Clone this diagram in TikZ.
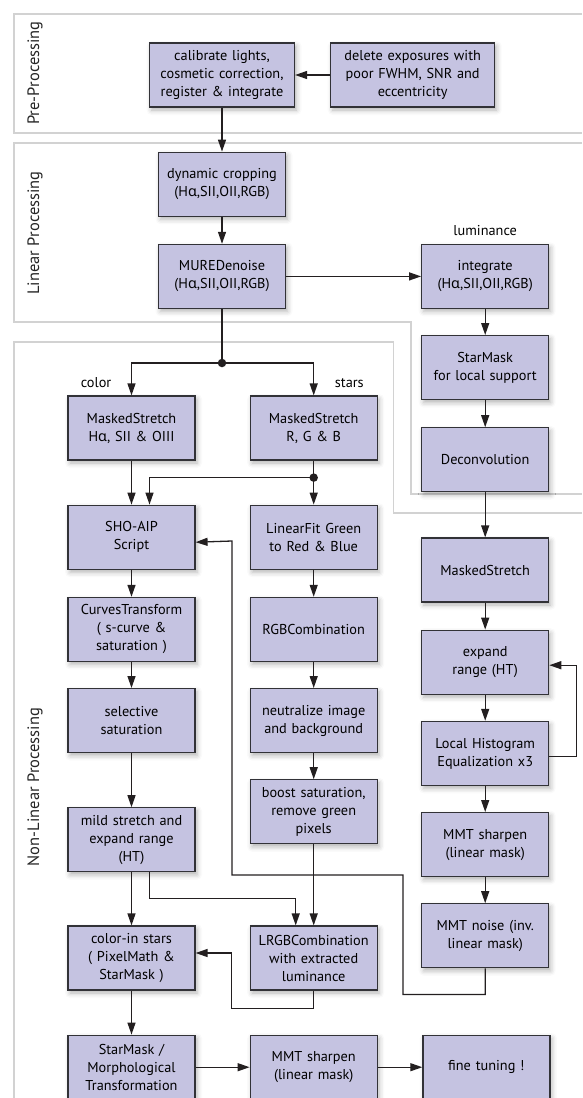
\documentclass[tikz,border=0pt]{standalone}
\usepackage{fontspec}
\setmainfont{PT Sans}
\newfontfamily\greekfont{Noto Sans}
\usepackage{xcolor}
\usepackage{tikz}
\usetikzlibrary{arrows.meta,positioning,shadows.blur}
\newcommand{\Ha}{H{\greekfont α}}
\definecolor{boxfill}{RGB}{197,195,225}
\definecolor{boxline}{RGB}{50,50,55}
\definecolor{linkcol}{RGB}{35,31,32}
\definecolor{framegray}{RGB}{210,210,210}

\begin{document}
\begin{tikzpicture}[
  x=1pt, y=-1pt,
  node distance=26pt,
  box/.style={draw=boxline, line width=1.2pt, fill=boxfill, align=center,
              minimum height=64pt, text width=115pt, inner xsep=6pt, inner ysep=2pt,
              font=\fontsize{14.3}{18}\selectfont,
              blur shadow={shadow xshift=2pt, shadow yshift=-3pt,
                           shadow blur radius=5pt, shadow opacity=30}},
  arrow/.style={-{Triangle[length=12pt,width=8pt]}, line width=1.3pt, draw=linkcol},
  link/.style={line width=1.3pt, draw=linkcol},
  frame/.style={draw=framegray, line width=1.5pt},
  phase/.style={rotate=90, font=\fontsize{16.5}{18}\selectfont, text=black!85},
  tag/.style={inner sep=0pt, font=\fontsize{14.3}{16}\selectfont},
  dot/.style={circle, fill=linkcol, inner sep=0pt, minimum size=8.5pt}
]
  \useasboundingbox (0,0) rectangle (582,1098);

  % section frames
  \draw[frame] (582,14) -| (14,133) -- (582,133);
  \draw[frame] (582,143) -| (14,322) -| (411,494) -- (582,494);
  \draw[frame] (582,513) -| (393.5,342) -| (14,1098);
  \node[phase] (prelabel) at (35,73) {Pre-Processing};
  \node[phase] (linlabel) at (35,233) {Linear Processing};
  \node[phase] (nonlabel) at (35,787) {Non-Linear Processing};

  % pre-processing
  \node[box, text width=133pt] (calib) at (222,75)
    {calibrate lights,\\cosmetic correction,\\register \& integrate};
  \node[box, text width=152pt, right=35pt of calib] (delete)
    {delete exposures with\\poor FWHM, SNR and\\eccentricity};

  % linear processing
  \node[box, below=44pt of calib] (crop) {dynamic cropping\\(\Ha,SII,OII,RGB)};
  \node[box, below=27pt of crop] (mure) {MUREDenoise\\(\Ha,SII,OII,RGB)};
  \node[box, right=135pt of mure] (integ) {integrate\\(\Ha,SII,OII,RGB)};
  \node[tag, above=8pt of integ] (lumtag) {luminance};

  % luminance branch
  \node[box, below=of integ] (starmask) {StarMask\\for local support};
  \node[box, below=27pt of starmask] (deconv) {Deconvolution};
  \node[box, below=45pt of deconv] (stretchL) {MaskedStretch};
  \node[box, below=27pt of stretchL] (expand) {expand\\range (HT)};
  \node[box, below=of expand] (lhe) {Local Histogram\\Equalization x3};
  \node[box, below=of lhe] (sharpL) {MMT sharpen\\(linear mask)};
  \node[box, below=of sharpL] (noiseL) {MMT noise (inv.\\linear mask)};

  % color branch
  \coordinate[below=54pt of mure] (split);
  \node[box] (msh) at (131.5,428) {MaskedStretch\\\Ha, SII \& OIII};
  \node[box, below=44pt of msh] (sho) {SHO-AIP\\Script};
  \node[box, below=27pt of sho] (curves) {CurvesTransform\\( s-curve \&\\saturation )};
  \node[box, below=of curves] (selsat) {selective\\saturation};
  \node[box, below=54pt of selsat] (mild) {mild stretch and\\expand range\\(HT)};
  \node[box, below=53pt of mild] (colorin) {color-in stars\\( PixelMath \&\\StarMask )};
  \node[box, below=44pt of colorin] (morph) {StarMask /\\Morphological\\Transformation};

  % stars branch
  \node[box, right=54pt of msh] (msrgb) {MaskedStretch\\R, G \& B};
  \node[box, right=54pt of sho] (linfit) {LinearFit Green\\to Red \& Blue};
  \node[box, right=54pt of curves] (rgbc) {RGBCombination};
  \node[box, right=54pt of selsat] (neutral) {neutralize image\\and background};
  \node[box, below=of neutral] (boost) {boost saturation,\\remove green\\pixels};
  \node[box, right=54pt of colorin] (lrgb) {LRGBCombination\\with extracted\\luminance};
  \node[box, right=54pt of morph] (sharpB) {MMT sharpen\\(linear mask)};
  \node[box, right=44.5pt of sharpB] (fine) {fine tuning !};
  \coordinate[below=17pt of msrgb] (merge);

  \node[tag, anchor=south east] (colortag) at ([xshift=-20pt, yshift=8pt]msh.north) {color};
  \node[tag, anchor=south west] (starstag) at ([xshift=21pt, yshift=8pt]msrgb.north) {stars};

  % connectors
  \draw[arrow] (delete) -- (calib);
  \draw[arrow] (calib) -- (crop);
  \draw[arrow] (crop) -- (mure);
  \draw[arrow] (mure) -- (integ);
  \draw[link] (mure) -- (split);
  \draw[arrow] (split) -| (msh);
  \draw[arrow] (split) -| (msrgb);
  \node[dot] at (split) {};

  \draw[arrow] (integ) -- (starmask);
  \draw[arrow] (starmask) -- (deconv);
  \draw[arrow] (deconv) -- (stretchL);
  \draw[arrow] (stretchL) -- (expand);
  \draw[arrow] (expand) -- (lhe);
  \draw[arrow] (lhe) -- (sharpL);
  \draw[arrow] (sharpL) -- (noiseL);
  \draw[arrow] ([yshift=-3pt]lhe.east) -- ++(27.5,0) |- ([yshift=-3pt]expand.east);

  \draw[arrow] (msh) -- (sho);
  \draw[link] (msrgb) -- (merge);
  \draw[arrow] (merge) -- (linfit);
  \draw[arrow] (merge) -| ([xshift=18pt]sho.north);
  \node[dot] at (merge) {};

  \draw[arrow] (sho) -- (curves);
  \draw[arrow] (curves) -- (selsat);
  \draw[arrow] (selsat) -- (mild);
  \draw[arrow] (mild) -- (colorin);
  \draw[arrow] (colorin) -- (morph);

  \draw[arrow] (linfit) -- (rgbc);
  \draw[arrow] (rgbc) -- (neutral);
  \draw[arrow] (neutral) -- (boost);
  \draw[arrow] (boost) -- (lrgb);
  \draw[arrow] ([xshift=18pt]mild.south) -- ++(0,26) -| ([xshift=-18pt]lrgb.north);
  \draw[arrow] (lrgb.south) -- ++(0,18) -| ([xshift=36pt, yshift=5pt]colorin.east)
    -- ([yshift=5pt]colorin.east);
  \draw[arrow] (noiseL.south) -- ++(0,26) -| (403,875) -| (232,541)
    -- ([yshift=-5pt]sho.east);

  \draw[arrow] (morph) -- (sharpB);
  \draw[arrow] (sharpB) -- (fine);
\end{tikzpicture}
\end{document}
